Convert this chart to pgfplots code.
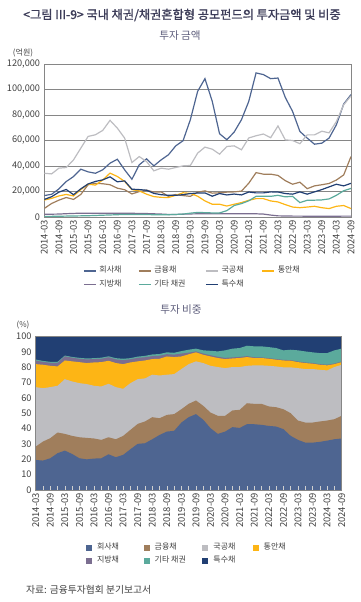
\documentclass[border=0pt]{standalone}
\usepackage{fontspec}
\setmainfont{Noto Sans CJK KR}
\newfontfamily\titlefont[FakeBold=1.2]{Noto Sans CJK KR}
\usepackage{pgfplots}
\pgfplotsset{compat=1.18}
\usepackage{pgfplotstable}

\definecolor{cC}{HTML}{4E6591}
\definecolor{cF}{HTML}{A07E5C}
\definecolor{cG}{HTML}{BDBDC1}
\definecolor{cO}{HTML}{FDB515}
\definecolor{cP}{HTML}{7B6E90}
\definecolor{cT}{HTML}{5BAA9C}
\definecolor{cN}{HTML}{213F73}
\definecolor{titlec}{HTML}{3C3C58}
\definecolor{subc}{HTML}{5E5E7C}
\definecolor{txt}{HTML}{404040}
\definecolor{frame}{HTML}{868686}

\pgfplotstableread{
i C F G O P T N
0 16800 6700 34300 13300 2100 500 13800
1 17800 10600 33800 14600 2200 500 15900
2 22000 13200 38300 16500 2300 600 19500
3 27800 15300 38800 17700 2600 700 21600
4 31700 13800 44800 16500 2800 800 17500
5 37500 17700 54000 21500 3000 900 22100
6 35400 25300 63200 25800 3000 1000 25900
7 34300 26400 64500 25000 3000 1200 27900
8 37000 26100 67900 29000 3000 1400 29100
9 42200 25300 75800 34400 3000 1600 31500
10 45300 22600 69700 31800 3000 1800 27600
11 37000 21400 61900 27900 3000 2000 28300
12 29600 18100 42700 21400 2900 2000 21800
13 40900 19900 47400 20500 2800 2000 21500
14 45600 21100 43500 17900 2700 1900 21000
15 40100 19500 36200 16000 2500 1800 18500
16 44800 19700 38300 15400 2300 1800 17500
17 48800 16200 37500 15300 2000 1800 17000
18 55800 17600 38800 17000 2000 2000 17000
19 59800 16800 40100 19000 2200 2300 17500
20 76300 16200 40400 18500 2400 3000 18400
21 98600 19500 50100 16300 2500 3600 18800
22 108500 20500 54800 12600 2500 3400 18900
23 90700 18700 53200 10000 2500 3200 16300
24 65300 19000 49300 10000 2500 3200 18400
25 60600 19500 55300 8600 2500 5000 17300
26 66600 19700 55800 10000 2500 9000 18000
27 76300 20300 52700 11300 2500 10500 17300
28 90700 26500 62000 13100 2600 12700 19600
29 113000 34800 63700 14400 2500 16200 18900
30 111700 33600 65100 14400 2300 16200 18900
31 108500 33600 62200 12600 1500 16200 19700
32 109000 32600 71400 11800 900 17000 19600
33 93800 28500 60500 9700 800 15800 18400
34 82800 25700 60000 7800 700 16200 17900
35 67100 27300 57500 7300 700 11300 19700
36 61900 22200 64400 7800 600 13100 17900
37 57100 24400 64400 8400 600 13200 19700
38 57900 25300 67300 7300 600 13400 21500
39 61900 26300 66000 6600 600 14200 23600
40 72300 29000 74900 8400 600 17000 25700
41 88600 33000 88000 9000 700 20600 24400
42 96000 47400 95000 6600 700 22400 26400
}\linetab

\pgfplotstableread{
i H F G O P T A
0 19.6 28.3 67.1 82.1 84.4 85.1 100
1 19.2 31.6 66.4 81.7 83.6 84.2 100
2 20.7 33.8 67.1 81.0 83.0 83.6 100
3 24.0 37.5 68.0 80.6 82.9 83.6 100
4 25.7 36.6 72.3 84.5 87.2 87.7 100
5 23.5 35.3 70.8 83.9 86.3 86.8 100
6 20.7 34.4 69.7 83.4 85.6 86.2 100
7 20.0 34.0 69.1 82.8 85.2 85.8 100
8 20.5 33.6 68.0 83.2 85.4 86.0 100
9 20.7 32.7 67.5 83.4 85.6 86.3 100
10 23.3 34.4 69.3 84.3 86.6 87.2 100
11 21.4 33.1 67.1 82.8 85.2 86.0 100
12 22.9 35.3 66.0 82.1 84.7 85.6 100
13 26.6 39.2 69.7 83.2 85.3 86.0 100
14 30.1 43.1 72.3 83.9 86.2 87.0 100
15 30.5 44.7 72.8 84.5 86.6 87.5 100
16 33.1 47.5 75.2 85.4 87.3 88.4 100
17 35.9 46.8 74.7 85.6 87.6 88.7 100
18 38.1 49.0 75.2 87.1 88.6 89.8 100
19 38.6 49.5 75.6 86.7 88.3 89.5 100
20 44.0 52.7 78.9 87.1 89.0 90.6 100
21 47.5 56.2 82.1 88.5 89.6 91.5 100
22 49.5 58.4 83.9 89.8 90.4 92.2 100
23 45.8 54.9 82.8 88.2 89.0 91.1 100
24 40.3 50.5 81.0 87.1 87.9 90.8 100
25 36.6 48.4 80.2 86.1 86.9 90.4 100
26 38.1 48.4 79.5 85.4 86.2 91.1 100
27 41.0 51.9 80.2 85.8 86.5 92.2 100
28 40.5 52.3 80.2 86.1 86.8 92.6 100
29 42.9 56.6 81.0 86.7 87.3 94.1 100
30 42.9 56.2 81.3 86.1 86.6 93.7 100
31 42.5 56.2 81.3 86.1 86.5 93.7 100
32 41.8 54.5 81.0 85.6 86.0 93.2 100
33 41.4 54.0 80.6 85.0 85.4 92.6 100
34 39.7 52.7 80.0 84.5 84.9 91.1 100
35 35.3 50.1 80.0 84.3 84.7 91.5 100
36 32.7 45.3 79.5 83.4 83.8 91.1 100
37 30.9 44.0 78.9 82.8 83.2 90.4 100
38 30.9 44.0 78.9 82.4 82.8 89.8 100
39 31.4 44.7 78.4 81.7 82.1 89.3 100
40 32.2 45.3 78.0 81.3 81.7 89.3 100
41 33.1 46.2 80.2 82.1 82.5 91.1 100
42 33.6 48.4 81.7 83.4 83.8 92.2 100
}\areatab

\newcommand{\ticklabs}{2014-03,2014-09,2015-03,2015-09,2016-03,2016-09,2017-03,2017-09,2018-03,2018-09,2019-03,2019-09,2020-03,2020-09,2021-03,2021-09,2022-03,2022-09,2023-03,2023-09,2024-03,2024-09}

\pgfplotsset{
  common/.style={
    scale only axis,
    xmin=0, xmax=42,
    xtick={0,2,...,42},
    xticklabels/.expand once={\ticklabs},
    /pgf/number format/assume math mode=true,
    axis line style={draw=frame, line width=0.8bp},
    xticklabel style={rotate=90, anchor=east, inner sep=0pt, font=\fontsize{9.4bp}{10bp}\selectfont, text=txt},
    yticklabel style={inner sep=0pt, font=\fontsize{9.2bp}{10bp}\selectfont, text=txt},
    xticklabel shift=3bp,
    yticklabel shift=4bp,
    legend cell align=left,
  }
}

\begin{document}
\begin{tikzpicture}
\path[use as bounding box] (0bp,0bp) rectangle (361bp,602bp);

\node[text=titlec, font=\titlefont\fontsize{12.2bp}{14bp}\selectfont] at (182bp,587bp) {<그림 III-9> 국내 채권/채권혼합형 공모펀드의 투자금액 및 비중};
\node[text=subc, font=\fontsize{10.6bp}{12bp}\selectfont] at (180bp,566bp) {투자 금액};
\node[text=txt, font=\fontsize{8bp}{9bp}\selectfont] at (23bp,549.3bp) {(억원)};

\begin{axis}[common,
  at={(44.3bp,385bp)}, anchor=south west,
  width=306.7bp, height=153bp,
  ymin=0, ymax=120000,
  ytick={0,20000,...,120000},
  scaled y ticks=false,
  yticklabel style={/pgf/number format/.cd, fixed, 1000 sep={,}},
  ymajorgrids, grid style={draw=frame, line width=0.7bp},
  major tick length=0pt,
  legend columns=4,
  legend style={at={(0.127,-0.3235)}, anchor=north west, draw=none, fill=none,
    inner sep=0pt, outer sep=0pt, column sep=0pt, row sep=4.3bp,
    font=\fontsize{8bp}{9bp}\selectfont,
    nodes={inner sep=0pt, text height=6.5bp, text depth=2.5bp, text=txt}},
  legend image code/.code={\draw[#1, line width=1.2bp] (0bp,0bp) -- (12bp,0bp);},
  every axis plot/.append style={line width=1.2bp, mark=none},
]
\addplot[color=cC] table[x=i,y=C] {\linetab};
\addlegendentry{\makebox[41.7bp][l]{\hspace{3bp}회사채}}
\addplot[color=cF] table[x=i,y=F] {\linetab};
\addlegendentry{\makebox[54bp][l]{\hspace{3bp}금융채}}
\addplot[color=cG] table[x=i,y=G] {\linetab};
\addlegendentry{\makebox[43bp][l]{\hspace{3bp}국공채}}
\addplot[color=cO] table[x=i,y=O] {\linetab};
\addlegendentry{\hspace{3bp}통안채}
\addplot[color=cP] table[x=i,y=P] {\linetab};
\addlegendentry{\makebox[41.7bp][l]{\hspace{3bp}지방채}}
\addplot[color=cT] table[x=i,y=T] {\linetab};
\addlegendentry{\makebox[54bp][l]{\hspace{3bp}기타 채권}}
\addplot[color=cN] table[x=i,y=N] {\linetab};
\addlegendentry{\makebox[43bp][l]{\hspace{3bp}특수채}}
\end{axis}

\node[text=subc, font=\fontsize{10.6bp}{12bp}\selectfont] at (181bp,292bp) {투자 비중};
\node[text=txt, font=\fontsize{8bp}{9bp}\selectfont] at (23bp,277bp) {(\%)};

\begin{axis}[common,
  at={(35.7bp,112bp)}, anchor=south west,
  width=306bp, height=153.3bp,
  ymin=0, ymax=100,
  ytick={0,10,...,100},
  axis on top,
  minor xtick={1,3,...,41},
  xtick pos=lower, ytick pos=left,
  tick align=inside,
  major tick length=4bp, minor tick length=4bp,
  tick style={draw=black!18, line width=0.6bp},
  minor tick style={draw=black!18, line width=0.6bp},
  ytick style={draw=none},
  legend columns=4,
  legend style={at={(0.1644,-0.347)}, anchor=north west, draw=none, fill=none,
    inner sep=0pt, outer sep=0pt, column sep=0pt, row sep=4.3bp,
    font=\fontsize{8bp}{9bp}\selectfont,
    nodes={inner sep=0pt, text height=6.5bp, text depth=2.5bp, text=txt}},
  legend image code/.code={\fill[#1] (0bp,-3bp) rectangle (6bp,3bp);},
]
\addplot[fill=cN, draw=none, forget plot] table[x=i,y=A] {\areatab} \closedcycle;
\addplot[fill=cT, draw=none, forget plot] table[x=i,y=T] {\areatab} \closedcycle;
\addplot[fill=cP, draw=none, forget plot] table[x=i,y=P] {\areatab} \closedcycle;
\addplot[fill=cO, draw=none, forget plot] table[x=i,y=O] {\areatab} \closedcycle;
\addplot[fill=cG, draw=none, forget plot] table[x=i,y=G] {\areatab} \closedcycle;
\addplot[fill=cF, draw=none, forget plot] table[x=i,y=F] {\areatab} \closedcycle;
\addplot[fill=cC, draw=none, forget plot] table[x=i,y=H] {\areatab} \closedcycle;
\addlegendimage{fill=cC, draw=none}
\addlegendentry{\makebox[51.7bp][l]{\hspace{5bp}회사채}}
\addlegendimage{fill=cF, draw=none}
\addlegendentry{\makebox[52.7bp][l]{\hspace{5bp}금융채}}
\addlegendimage{fill=cG, draw=none}
\addlegendentry{\makebox[44.3bp][l]{\hspace{5bp}국공채}}
\addlegendimage{fill=cO, draw=none}
\addlegendentry{\hspace{5bp}통안채}
\addlegendimage{fill=cP, draw=none}
\addlegendentry{\makebox[51.7bp][l]{\hspace{5bp}지방채}}
\addlegendimage{fill=cT, draw=none}
\addlegendentry{\makebox[52.7bp][l]{\hspace{5bp}기타 채권}}
\addlegendimage{fill=cN, draw=none}
\addlegendentry{\makebox[44.3bp][l]{\hspace{5bp}특수채}}
\end{axis}

\node[text=txt, anchor=west, inner sep=0pt, font=\fontsize{9.8bp}{11bp}\selectfont] at (26bp,12bp) {자료: 금융투자협회 분기보고서};
\end{tikzpicture}
\end{document}
